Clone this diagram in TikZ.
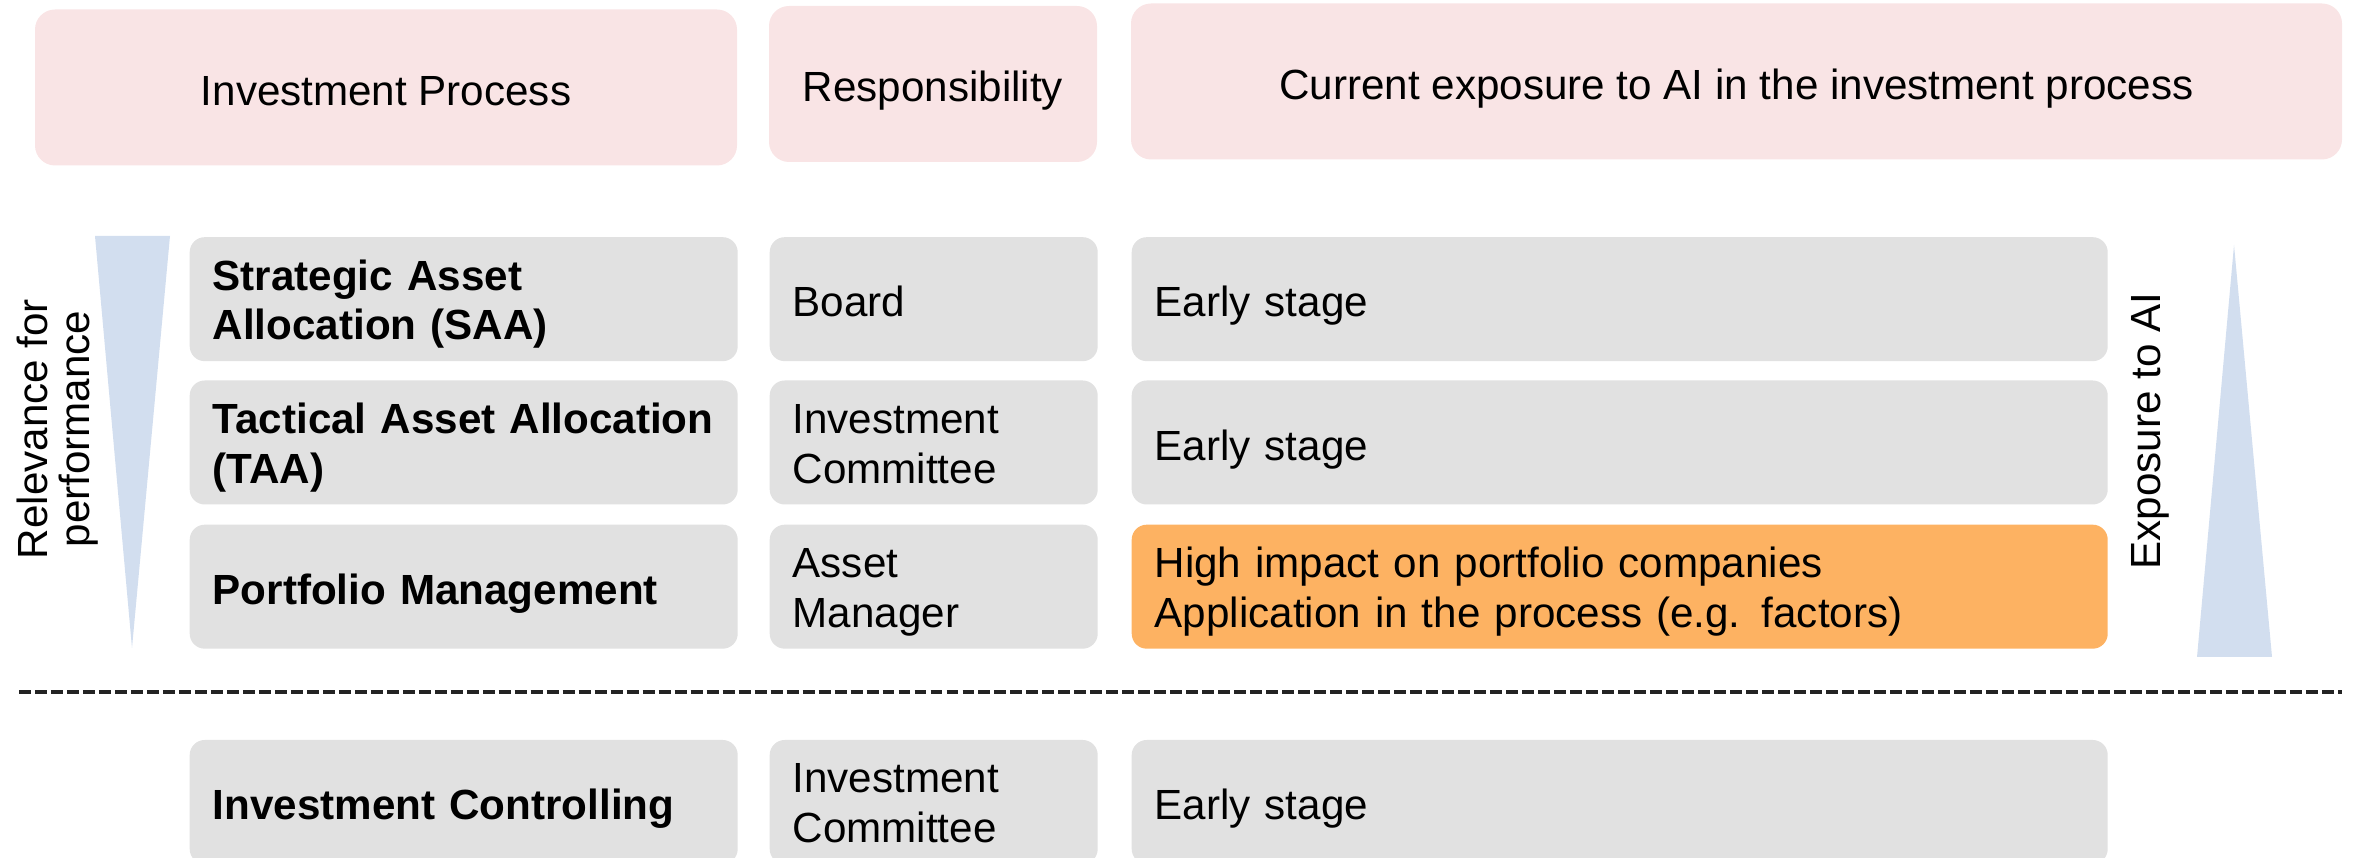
\documentclass[tikz,border=0pt]{standalone}
\usepackage{fontspec}
\setmainfont{Liberation Sans}
\definecolor{headpink}{RGB}{249,228,229}
\definecolor{cellgray}{RGB}{225,225,225}
\definecolor{highorange}{RGB}{253,178,98}
\definecolor{wedgeblue}{RGB}{210,222,239}
\definecolor{cutgray}{RGB}{35,35,35}
\newcommand{\cellsize}{\fontsize{12}{14.2}\selectfont}
\tikzset{
  oneline/.style={text height=10pt, text depth=0pt},
  twoline/.style={text height=10pt, text depth=15.2pt},
  head/.style={fill=headpink, rounded corners=0.2cm, minimum height=1.56cm, inner sep=0pt, font=\cellsize, oneline},
  cell/.style={fill=cellgray, rounded corners=0.15cm, minimum height=1.24cm, inner xsep=0.23cm, inner ysep=0pt, align=left, anchor=west, font=\cellsize, oneline},
  colA/.style={cell, text width=5.02cm, font=\cellsize\bfseries},
  colB/.style={cell, text width=2.82cm},
  colC/.style={cell, text width=9.30cm},
  sidelabel/.style={rotate=90, align=center, inner sep=0pt, font=\cellsize},
  divider/.style={line width=1.1pt, dash pattern=on 3.4pt off 1.15pt, cutgray}
}
\begin{document}
\begin{tikzpicture}
\useasboundingbox (0, 0) rectangle (23.59, 8.58);
\node [head, minimum width=7.02cm] (hprocess) at (3.86, 7.705) {Investment Process};
\node [head, minimum width=3.28cm] (hresp) at (9.33, 7.74) {Responsibility};
\node [head, minimum width=12.11cm] (hexposure) at (17.365, 7.765) {Current exposure to AI in the investment process};
\fill [wedgeblue] (0.95, 6.22) -- (1.70, 6.22) -- (1.32, 2.10) -- cycle;
\node [sidelabel, font=\fontsize{12}{11.8}\selectfont] (relevance) at (0.575, 4.29) {Relevance for\\performance};
\node [colA, twoline] (saa) at (1.89, 5.588) {Strategic Asset\\Allocation (SAA)};
\node [colB] (saaresp) at (7.69, 5.588) {Board};
\node [colC] (saaai) at (11.31, 5.588) {Early stage};
\node [colA, twoline] (taa) at (1.89, 4.155) {Tactical Asset Allocation\\(TAA)};
\node [colB, twoline] (taaresp) at (7.69, 4.155) {Investment\\Committee};
\node [colC] (taaai) at (11.31, 4.155) {Early stage};
\node [colA] (pm) at (1.89, 2.713) {Portfolio Management};
\node [colB, twoline] (pmresp) at (7.69, 2.713) {Asset\\Manager};
\node [colC, twoline, fill=highorange] (pmai) at (11.31, 2.713) {High impact on portfolio companies\\Application in the process (e.g. factors)};
\fill [wedgeblue] (22.34, 6.13) -- (22.72, 2.01) -- (21.97, 2.01) -- cycle;
\node [sidelabel] (exposure) at (21.50, 4.27) {Exposure to AI};
\coordinate (cutleft) at (0.19, 1.657);
\coordinate (cutright) at (23.42, 1.657);
\draw [divider] (cutleft) -- (cutright);
\node [colA] (ic) at (1.89, 0.56) {Investment Controlling};
\node [colB, twoline] (icresp) at (7.69, 0.56) {Investment\\Committee};
\node [colC] (icai) at (11.31, 0.56) {Early stage};
\end{tikzpicture}
\end{document}
